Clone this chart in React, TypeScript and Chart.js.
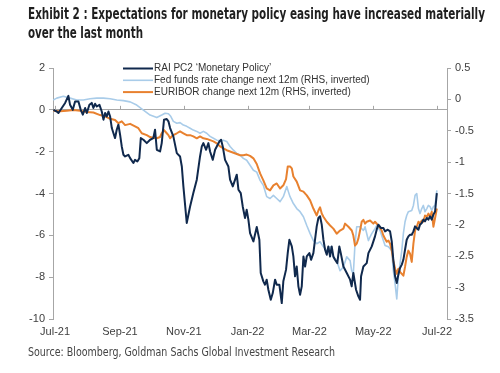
import React, { useEffect, useLayoutEffect, useRef } from 'react';
import { Chart, registerables } from 'chart.js';

Chart.register(...registerables);

const TITLE_LINES = [
  'Exhibit 2 : Expectations for monetary policy easing have increased materially',
  'over the last month',
];
const SOURCE = 'Source: Bloomberg, Goldman Sachs Global Investment Research';

// x axis: days since 1 Jul 2021
const TICK_DAYS = [0, 62, 123, 184, 243, 304, 365];
const TICK_LABELS = ['Jul-21', 'Sep-21', 'Nov-21', 'Jan-22', 'Mar-22', 'May-22', 'Jul-22'];

const SERIES_NAMES = [
  'RAI PC2 \u2018Monetary Policy\u2019',
  'Fed funds rate change next 12m (RHS, inverted)',
  'EURIBOR change next 12m (RHS, inverted)',
];

// RAI PC2 'Monetary Policy' (LHS)
const RAI_DAYS = [
  -1.6, 1.6, 3.2, 6.4, 9.6, 12.7, 14.3, 16.9, 19.1, 22.3, 24.5, 26.5, 28.7, 30.3, 32.8, 35.0, 36.6, 38.2, 39.8, 42.4,
  44.6, 46.2, 47.8, 49.4, 51.0, 52.6, 54.2, 55.7, 57.3, 58.9, 60.5, 62.1, 63.7, 65.3, 66.9, 70.0, 71.7, 74.8, 76.4, 78.6,
  80.5, 81.9, 84.4, 87.6, 90.8, 93.9, 95.5, 97.2, 100.3, 101.9, 104.1, 106.7, 108.3, 109.9, 113.0, 116.3, 119.4, 121.1, 122.6, 125.8,
  129.0, 132.1, 135.4, 138.5, 140.2, 141.7, 144.3, 146.5, 148.1, 150.7, 152.9, 154.5, 157.0, 158.6, 160.2, 162.4, 165.6, 167.2, 169.8, 172.0,
  173.6, 175.2, 177.4, 179.3, 181.5, 183.1, 184.7, 186.3, 189.5, 192.7, 195.2, 196.5, 199.0, 200.6, 202.2, 203.8, 206.1, 208.0, 210.2, 211.8,
  214.3, 216.6, 218.1, 220.7, 222.3, 223.9, 226.2, 227.7, 229.3, 230.9, 232.5, 234.1, 235.7, 237.3, 238.9, 240.5, 243.0, 244.6, 246.8, 248.4,
  250.0, 251.6, 253.2, 254.8, 256.4, 258.0, 259.6, 261.1, 262.8, 264.3, 265.9, 267.5, 269.7, 271.6, 273.0, 275.5, 278.7, 281.9, 283.4, 285.0,
  287.6, 289.8, 291.4, 292.4, 294.6, 297.8, 299.4, 302.6, 305.7, 307.3, 308.9, 311.5, 313.7, 315.3, 317.9, 320.1, 321.7, 323.2, 324.9, 326.5,
  328.0, 329.6, 331.3, 332.8, 334.4, 336.0, 337.6, 339.2, 340.8, 342.4, 344.0, 345.6, 347.2, 348.7, 350.4, 351.9, 353.5, 355.2, 356.7, 358.3,
  359.9, 361.5, 363.1, 364.8,
];
const RAI_VALUES = [
  0.0, -0.08, -0.15, 0.09, 0.33, 0.67, 0.24, 0.0, 0.4, 0.4, 0.0, -0.23, 0.09, -0.15, 0.24, 0.33, 0.09, 0.29, 0.16, 0.24,
  -0.08, -0.47, -0.15, -0.32, -0.08, -0.32, -0.87, -1.11, -1.35, -0.95, -0.71, -1.19, -1.75, -2.15, -2.23, -2.15, -2.31, -2.54, -2.39, -2.47,
  -2.31, -1.35, -1.43, -1.59, -1.43, -1.35, -0.95, -1.91, -1.99, -1.59, -0.47, -0.44, -0.55, -0.87, -1.27, -2.07, -2.23, -2.71, -3.66, -5.41,
  -4.62, -3.98, -3.34, -2.23, -1.75, -1.59, -1.91, -1.59, -1.99, -2.39, -1.91, -1.75, -1.51, -1.43, -1.75, -2.39, -2.71, -3.34, -3.66, -3.34,
  -3.10, -3.82, -3.98, -4.62, -5.17, -4.78, -5.25, -5.89, -6.29, -5.6, -6.21, -7.80, -8.20, -8.36, -8.12, -8.60, -9.08, -8.76, -8.12, -8.36,
  -8.36, -9.24, -8.20, -7.64, -6.85, -6.21, -6.53, -7.01, -7.96, -7.49, -8.44, -8.84, -8.44, -7.01, -7.49, -7.01, -6.85, -7.17, -6.85, -6.21,
  -5.57, -5.17, -5.09, -5.49, -6.21, -6.69, -6.93, -6.53, -7.01, -6.53, -7.01, -7.17, -7.33, -6.53, -6.85, -7.49, -7.80, -8.12, -8.44, -7.80,
  -8.60, -8.92, -9.08, -7.96, -7.49, -7.33, -6.85, -6.53, -6.05, -5.73, -5.49, -5.65, -5.65, -5.81, -5.73, -5.81, -6.29, -7.17, -7.96, -8.28,
  -7.88, -7.56, -7.40, -7.17, -6.69, -6.21, -6.05, -5.97, -5.97, -5.81, -5.57, -5.65, -5.73, -5.49, -5.41, -5.25, -5.33, -5.17, -5.25, -5.09,
  -5.25, -5.01, -4.86, -3.98,
];

// Fed funds rate change next 12m (RHS, inverted)
const FED_DAYS = [
  -1.9, 1.6, 7.9, 14.3, 20.7, 27.0, 33.4, 39.8, 46.2, 52.6, 58.9, 65.3, 71.7, 78.0, 84.4, 90.8, 97.2, 101.9, 105.1, 108.3,
  110.5, 113.0, 116.3, 119.4, 122.6, 125.8, 129.0, 132.1, 135.4, 138.5, 141.7, 144.9, 148.1, 151.3, 154.5, 157.7, 160.8, 164.0, 167.2, 170.4,
  173.6, 176.8, 179.9, 183.1, 186.3, 189.5, 192.7, 195.9, 199.0, 202.2, 205.4, 208.6, 211.8, 215.0, 218.1, 221.4, 222.9, 224.5, 227.7, 230.9,
  234.1, 237.3, 240.5, 243.7, 246.8, 250.0, 253.2, 256.4, 259.6, 262.8, 264.3, 265.9, 269.1, 272.3, 275.5, 278.7, 281.9, 283.4, 285.0, 286.6,
  288.2, 291.4, 294.6, 296.2, 299.4, 301.0, 302.6, 305.7, 307.3, 310.5, 313.7, 315.3, 318.5, 321.7, 323.2, 324.9, 326.5, 328.0, 329.6, 331.3,
  332.8, 334.4, 336.0, 337.6, 340.8, 342.4, 344.0, 345.6, 347.2, 348.7, 350.4, 351.9, 353.5, 355.2, 356.7, 358.3, 359.9, 361.5, 363.1, 364.8,
];
const FED_VALUES = [
  -0.01, 0.02, 0.05, 0.02, -0.01, -0.01, 0.01, 0.02, 0.02, 0.01, -0.01, -0.02, -0.04, -0.09, -0.17, -0.25, -0.29, -0.25, -0.22, -0.23,
  -0.27, -0.35, -0.38, -0.37, -0.41, -0.43, -0.46, -0.49, -0.51, -0.54, -0.51, -0.54, -0.59, -0.62, -0.65, -0.66, -0.65, -0.67, -0.75, -0.81,
  -0.86, -0.89, -0.94, -0.97, -1.05, -1.13, -1.16, -1.29, -1.37, -1.55, -1.58, -1.53, -1.58, -1.63, -1.55, -1.39, -1.47, -1.55, -1.66, -1.74,
  -1.79, -1.87, -2.01, -2.14, -2.25, -2.30, -2.27, -2.35, -2.41, -2.35, -2.43, -2.51, -2.57, -2.73, -2.67, -2.51, -2.57, -2.73, -2.78, -2.30,
  -2.03, -2.03, -2.09, -2.03, -2.25, -2.19, -2.14, -2.06, -2.01, -2.09, -2.25, -2.33, -2.35, -2.41, -2.73, -2.94, -3.18, -2.83, -2.62, -2.41,
  -2.14, -1.95, -1.85, -1.79, -1.77, -1.69, -1.53, -1.50, -1.74, -1.82, -1.74, -1.69, -1.79, -1.74, -1.69, -1.71, -1.77, -1.71, -1.69, -1.45,
];

// EURIBOR change next 12m (RHS, inverted)
const EUR_DAYS = [
  -1.6, 4.8, 11.2, 17.5, 23.9, 30.3, 36.6, 43.0, 47.8, 52.6, 57.3, 60.5, 63.7, 66.9, 71.7, 76.4, 79.6, 82.8, 87.6, 90.8,
  93.9, 97.2, 100.3, 101.9, 104.1, 106.7, 108.3, 109.9, 111.5, 113.0, 116.3, 119.4, 122.6, 125.8, 129.0, 132.1, 135.4, 138.5, 141.7, 144.9,
  148.1, 151.3, 154.5, 157.7, 160.8, 164.0, 167.2, 170.4, 173.6, 176.8, 179.9, 183.1, 186.3, 189.5, 192.7, 195.9, 199.0, 202.2, 205.4, 208.6,
  211.8, 215.0, 218.1, 220.7, 222.3, 224.5, 226.2, 227.7, 230.9, 234.1, 237.3, 240.5, 243.7, 246.8, 250.0, 251.6, 253.2, 254.8, 256.4, 259.6,
  262.8, 265.9, 269.1, 272.3, 275.5, 277.1, 280.3, 283.5, 285.0, 286.6, 288.2, 289.8, 291.4, 293.0, 294.6, 296.2, 297.8, 301.0, 304.1, 305.7,
  308.9, 312.1, 313.7, 315.3, 316.9, 318.5, 320.1, 321.7, 323.2, 324.9, 326.5, 328.0, 329.6, 332.8, 334.4, 336.0, 337.6, 339.2, 340.8, 342.4,
  344.0, 345.6, 347.2, 348.7, 350.4, 351.9, 353.5, 355.2, 356.7, 358.3, 359.9, 361.5, 363.1, 364.8,
];
const EUR_VALUES = [
  -0.18, -0.19, -0.18, -0.17, -0.18, -0.20, -0.21, -0.25, -0.27, -0.31, -0.33, -0.38, -0.35, -0.41, -0.39, -0.43, -0.46, -0.54, -0.57, -0.60,
  -0.61, -0.62, -0.60, -0.54, -0.49, -0.54, -0.57, -0.62, -0.59, -0.57, -0.54, -0.51, -0.54, -0.57, -0.57, -0.59, -0.62, -0.59, -0.62, -0.63,
  -0.65, -0.67, -0.70, -0.75, -0.78, -0.81, -0.83, -0.85, -0.87, -0.89, -0.89, -0.88, -0.90, -0.94, -1.03, -1.18, -1.29, -1.42, -1.45, -1.37,
  -1.34, -1.42, -1.37, -1.27, -1.07, -1.07, -1.10, -1.23, -1.31, -1.45, -1.47, -1.53, -1.61, -1.74, -1.85, -1.77, -1.72, -1.82, -1.87, -1.95,
  -2.01, -2.06, -2.14, -2.09, -2.06, -1.98, -2.03, -2.09, -2.17, -2.33, -2.30, -2.22, -2.09, -1.95, -1.92, -1.98, -1.95, -1.93, -1.98, -1.95,
  -2.01, -2.09, -2.17, -2.22, -2.27, -2.25, -2.30, -2.41, -2.57, -2.70, -2.78, -2.70, -2.75, -2.81, -2.67, -2.51, -2.41, -2.46, -2.59, -2.30,
  -2.09, -2.03, -1.95, -1.98, -1.93, -1.95, -1.85, -1.87, -1.82, -1.87, -1.79, -2.03, -1.89, -1.74,
];

const COLORS = ['#10294d', '#a9cce9', '#e8812f'];
const AXIS_GREY = '#a6a6a6';
const TEXT_COLOR = '#404040';

const toPoints = (xs: number[], ys: number[]) => xs.map((x, i) => ({ x, y: ys[i] }));

const overlayPlugin = {
  id: 'overlay',
  afterDatasetsDraw(chart: any) {
    const ctx = chart.ctx;
    const xs = chart.scales.x;
    const ys = chart.scales.y;
    const y0 = ys.getPixelForValue(0);
    ctx.save();
    // small tick marks on the zero line
    ctx.strokeStyle = AXIS_GREY;
    ctx.lineWidth = 1;
    TICK_DAYS.forEach((d) => {
      const px = Math.round(xs.getPixelForValue(d)) + 0.5;
      ctx.beginPath();
      ctx.moveTo(px, y0);
      ctx.lineTo(px, y0 - 4);
      ctx.stroke();
    });
    // legend
    ctx.font = '10px "Liberation Sans", Arial, sans-serif';
    ctx.textBaseline = 'middle';
    ctx.fillStyle = '#333';
    chart.data.datasets.forEach((ds: any, i: number) => {
      const rowY = 68.5 + i * 11.8;
      ctx.strokeStyle = ds.borderColor;
      ctx.lineWidth = ds.borderWidth;
      ctx.beginPath();
      ctx.moveTo(123, rowY);
      ctx.lineTo(153, rowY);
      ctx.stroke();
      ctx.fillText(ds.label, 154, rowY);
    });
    ctx.restore();
  },
};

function FitText({ text, width, style }: { text: string; width: number; style: React.CSSProperties }) {
  const ref = useRef<HTMLSpanElement>(null);
  useLayoutEffect(() => {
    const el = ref.current;
    if (!el) return;
    el.style.transform = 'none';
    const w = el.getBoundingClientRect().width;
    if (w > 0) el.style.transform = `scaleX(${width / w})`;
  }, [text, width]);
  return (
    <span ref={ref} style={{ ...style, position: 'absolute', whiteSpace: 'nowrap', transformOrigin: '0 0', display: 'inline-block' }}>
      {text}
    </span>
  );
}

export default function App() {
  const canvasRef = useRef<HTMLCanvasElement>(null);

  useEffect(() => {
    if (!canvasRef.current) return;
    const chart = new Chart(canvasRef.current, {
      type: 'line',
      data: {
        datasets: [
          {
            label: SERIES_NAMES[0],
            data: toPoints(RAI_DAYS, RAI_VALUES),
            borderColor: COLORS[0],
            borderWidth: 2,
            yAxisID: 'y',
            order: 0,
          },
          {
            label: SERIES_NAMES[1],
            data: toPoints(FED_DAYS, FED_VALUES),
            borderColor: COLORS[1],
            borderWidth: 1.6,
            yAxisID: 'y1',
            order: 2,
          },
          {
            label: SERIES_NAMES[2],
            data: toPoints(EUR_DAYS, EUR_VALUES),
            borderColor: COLORS[2],
            borderWidth: 2,
            yAxisID: 'y1',
            order: 1,
          },
        ],
      },
      options: {
        responsive: false,
        animation: false,
        devicePixelRatio: 1,
        layout: { padding: { top: 68, left: 0, right: 0, bottom: 0 } },
        elements: { point: { radius: 0 }, line: { tension: 0, borderJoinStyle: 'round' } },
        plugins: { legend: { display: false }, tooltip: { enabled: false }, title: { display: false } },
        scales: {
          x: {
            type: 'linear',
            min: -2,
            max: 374.5,
            grid: { display: false, drawTicks: false },
            border: { display: false },
            afterBuildTicks: (scale: any) => {
              scale.ticks = TICK_DAYS.map((v) => ({ value: v }));
            },
            afterFit: (scale: any) => {
              scale.height = 54;
            },
            ticks: {
              autoSkip: false,
              maxRotation: 0,
              padding: 6,
              color: TEXT_COLOR,
              font: { family: '"Liberation Sans", Arial, sans-serif', size: 11 },
              callback: (value: any) => TICK_LABELS[TICK_DAYS.indexOf(Number(value))] ?? '',
            },
          },
          y: {
            position: 'left',
            min: -10,
            max: 2,
            afterFit: (scale: any) => {
              scale.width = 53;
            },
            ticks: {
              stepSize: 2,
              padding: 4,
              color: TEXT_COLOR,
              font: { family: '"Liberation Sans", Arial, sans-serif', size: 11 },
              callback: (v: any) => String(v),
            },
            grid: {
              drawOnChartArea: true,
              color: (c: any) => (c.tick && c.tick.value === 0 ? AXIS_GREY : 'rgba(0,0,0,0)'),
              tickColor: AXIS_GREY,
              tickLength: 4,
            },
            border: { display: true, color: AXIS_GREY, width: 1 },
          },
          y1: {
            position: 'right',
            min: -3.5,
            max: 0.5,
            afterFit: (scale: any) => {
              scale.width = 53;
            },
            ticks: {
              stepSize: 0.5,
              padding: 4,
              color: TEXT_COLOR,
              font: { family: '"Liberation Sans", Arial, sans-serif', size: 11 },
              callback: (v: any) => String(v),
            },
            grid: { drawOnChartArea: false, tickColor: AXIS_GREY, tickLength: 4 },
            border: { display: true, color: AXIS_GREY, width: 1 },
          },
        },
      } as any,
      plugins: [overlayPlugin],
    });
    return () => chart.destroy();
  }, []);

  const titleStyle: React.CSSProperties = {
    fontFamily: '"Liberation Sans Narrow", "DejaVu Sans Condensed", Roboto, sans-serif',
    fontWeight: 700,
    fontSize: 15,
    lineHeight: '19px',
    color: '#1f1f1f',
    left: 28,
  };
  const sourceStyle: React.CSSProperties = {
    fontFamily: '"Liberation Sans Narrow", "DejaVu Sans Condensed", Roboto, sans-serif',
    fontSize: 12,
    lineHeight: '14px',
    color: '#444',
    left: 28,
  };

  return (
    <div style={{ position: 'absolute', left: 0, top: 0, width: 500, height: 373, background: '#fff', overflow: 'hidden' }}>
      <canvas ref={canvasRef} width={500} height={373} style={{ position: 'absolute', left: 0, top: 0, width: 500, height: 373 }} />
      <FitText text={TITLE_LINES[0]} width={457} style={{ ...titleStyle, top: 5 }} />
      <FitText text={TITLE_LINES[1]} width={115} style={{ ...titleStyle, top: 24 }} />
      <FitText text={SOURCE} width={307} style={{ ...sourceStyle, top: 345 }} />
    </div>
  );
}
